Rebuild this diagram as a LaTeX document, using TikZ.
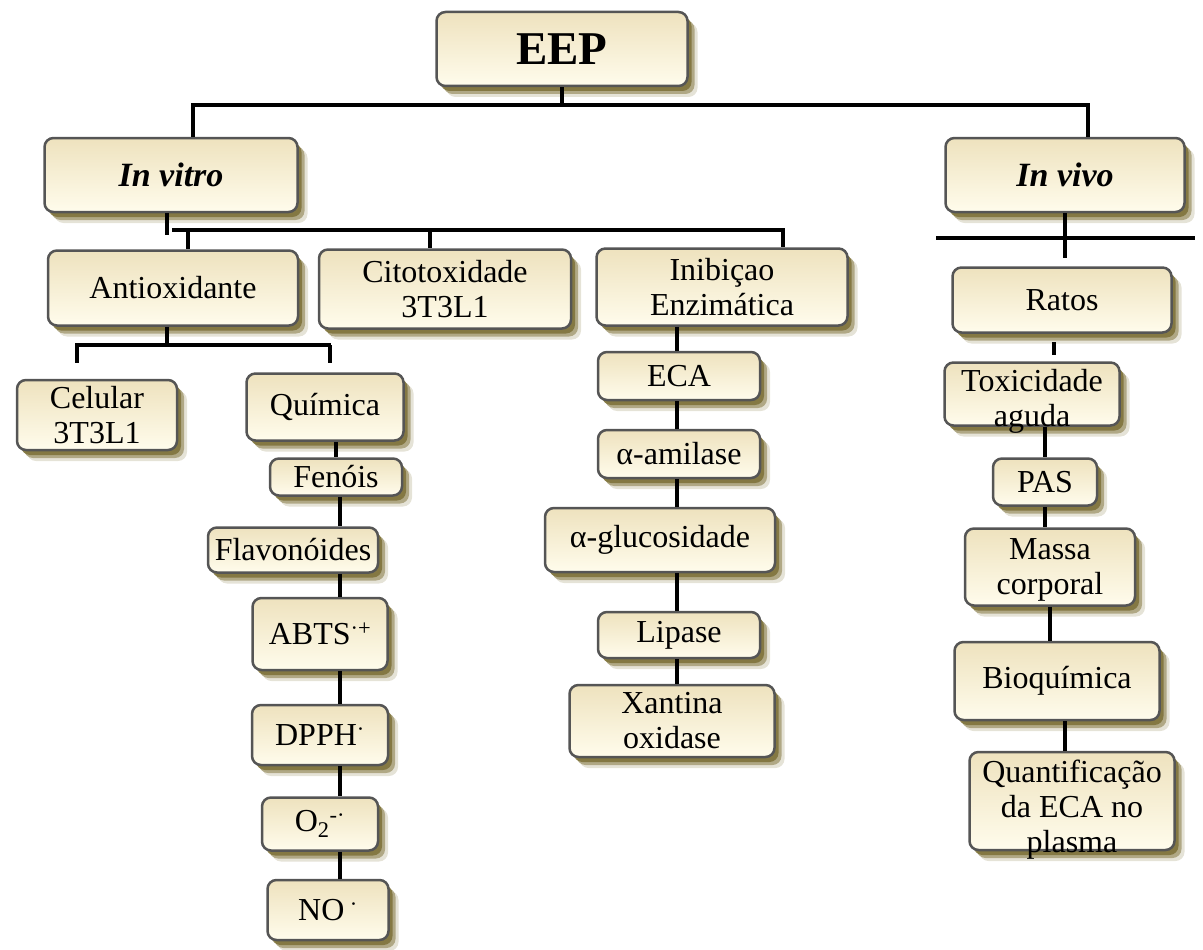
\documentclass[tikz,border=0pt]{standalone}
\usepackage{fontspec}
\setmainfont{Liberation Serif}
\usetikzlibrary{shadows}
\definecolor{cA}{RGB}{238,226,190}
\definecolor{cB}{RGB}{255,252,236}
\definecolor{bord}{RGB}{85,85,85}
\definecolor{shcol}{RGB}{128,116,60}
\tikzset{
  box/.style={rectangle, rounded corners=9pt, draw=bord, line width=2.5pt,
    top color=cA, bottom color=cB, inner sep=0pt, align=center,
    font=\fontsize{32}{35}\selectfont,
    drop shadow={shadow xshift=10pt, shadow yshift=-11pt, fill=shcol!45, opacity=0.45},
    drop shadow={shadow xshift=7pt, shadow yshift=-8pt, fill=shcol!80, opacity=0.7},
    drop shadow={shadow xshift=4pt, shadow yshift=-5pt, fill=shcol, opacity=0.9}},
  txt/.style={font=\fontsize{32}{35}\selectfont, align=center, inner sep=0pt},
  conn/.style={line width=4pt, black},
}
\begin{document}
\begin{tikzpicture}[x=1pt, y=-1pt]
\useasboundingbox (0,0) rectangle (1203,950);
% top level
\node[box, minimum width=251pt, minimum height=74pt, font=\fontsize{47}{50}\selectfont\bfseries] (eep) at (562,49) {\raisebox{-3pt}{EEP}};
\node[box, minimum width=253pt, minimum height=74pt, font=\fontsize{34}{38}\selectfont\bfseries\itshape] (invitro) at (171,175) {In vitro};
\node[box, minimum width=239pt, minimum height=74pt, font=\fontsize{34}{38}\selectfont\bfseries\itshape] (invivo) at (1065,175) {In vivo};
% in vitro level
\node[box, minimum width=250pt, minimum height=75pt] (antiox) at (173,288) {Antioxidante};
\node[box, minimum width=252pt, minimum height=79pt] (cito) at (445,289) {Citotoxidade\\3T3L1};
\node[box, minimum width=251pt, minimum height=77pt] (inib) at (722,287) {Inibiçao\\Enzimática};
% antioxidant branch
\node[box, minimum width=160pt, minimum height=70pt] (celular) at (97,415) {Celular\\3T3L1};
\node[box, minimum width=157pt, minimum height=67pt] (quimica) at (325,407) {Química};
\node[box, minimum width=132pt, minimum height=37pt] (fenois) at (336,477) {Fenóis};
\node[box, minimum width=170pt, minimum height=45pt] (flavo) at (293,550) {Flavonóides};
\node[box, minimum width=135pt, minimum height=72pt] (abts) at (320,634) {ABTS\textsuperscript{·+}};
\node[box, minimum width=136pt, minimum height=60pt] (dpph) at (320,735) {DPPH\textsuperscript{·}};
\node[box, minimum width=116pt, minimum height=53pt] (o2) at (320,824) {O\textsubscript{2}\textsuperscript{-·}};
\node[box, minimum width=121pt, minimum height=60pt] (no) at (328,910) {NO\,\textsuperscript{·}};
% enzyme branch
\node[box, minimum width=162pt, minimum height=48pt] (eca) at (679,376) {ECA};
\node[box, minimum width=162pt, minimum height=48pt] (amil) at (679,454) {α-amilase};
\node[box, minimum width=230pt, minimum height=64pt] (gluc) at (660,540) {α-glucosidade};
\node[box, minimum width=162pt, minimum height=46pt] (lipase) at (679,635) {Lipase};
\node[box, minimum width=205pt, minimum height=72pt] (xant) at (672,721) {Xantina\\oxidase};
% in vivo branch
\node[box, minimum width=219pt, minimum height=65pt] (ratos) at (1062,300) {\raisebox{-2pt}{Ratos}};
\node[box, minimum width=175pt, minimum height=63pt,
  label={[txt, yshift=-7pt]center:{Toxicidade\\aguda}}] (toxi) at (1032,394) {};
\node[box, minimum width=104pt, minimum height=47pt] (pas) at (1045,482) {PAS};
\node[box, minimum width=170pt, minimum height=77pt,
  label={[txt, yshift=-3pt]center:{Massa\\corporal}}] (massa) at (1050,567) {};
\node[box, minimum width=205pt, minimum height=78pt] (bioq) at (1057,681) {Bioquímica};
\node[box, minimum width=205pt, minimum height=98pt,
  label={[txt, yshift=-9pt]center:{Quantificação\\da ECA no\\plasma}}] (quant) at (1072,801) {};
% connector coordinates
\coordinate (barL) at (193,105);
\coordinate (barR) at (1088,105);
\coordinate (v0) at (167,235);
\coordinate (vL) at (172,230);
\coordinate (vR) at (785,230);
\coordinate (a1) at (188,230);
\coordinate (a2) at (430,230);
\coordinate (a3) at (783,230);
\coordinate (s0) at (167,345);
\coordinate (sL) at (75,345);
\coordinate (sR) at (331,345);
\coordinate (c1) at (77,363);
\coordinate (c2) at (330,363);
\coordinate (xq) at (336,0);
\coordinate (xf) at (340,0);
\coordinate (xe) at (677,0);
\coordinate (w0) at (1065,258);
\coordinate (wL) at (936,238);
\coordinate (wR) at (1195,238);
\coordinate (r1) at (1054,342);
\coordinate (r2) at (1054,355);
\coordinate (xp) at (1045,0);
\coordinate (xm) at (1050,0);
\coordinate (xb) at (1065,0);
% connectors
\draw[conn] (eep.south) -- (eep.south |- barL);
\draw[conn] (invitro.north -| barL) -- (barL) -- (barR) -- (invivo.north -| barR);
\draw[conn] (invitro.south -| v0) -- (v0);
\draw[conn] (vL) -- (vR);
\draw[conn] (a1) -- (antiox.north -| a1);
\draw[conn] (a2) -- (cito.north -| a2);
\draw[conn] (a3) -- (inib.north -| a3);
\draw[conn] (antiox.south -| s0) -- (s0);
\draw[conn] (sL) -- (sR);
\draw[conn] (sL -| c1) -- (c1);
\draw[conn] (sR -| c2) -- (c2);
\draw[conn] (quimica.south -| xq) -- (fenois.north -| xq);
\draw[conn] (fenois.south -| xf) -- (flavo.north -| xf);
\draw[conn] (flavo.south -| xf) -- (abts.north -| xf);
\draw[conn] (abts.south -| xf) -- (dpph.north -| xf);
\draw[conn] (dpph.south -| xf) -- (o2.north -| xf);
\draw[conn] (o2.south -| xf) -- (no.north -| xf);
\draw[conn] (inib.south -| xe) -- (eca.north -| xe);
\draw[conn] (eca.south -| xe) -- (amil.north -| xe);
\draw[conn] (amil.south -| xe) -- (gluc.north -| xe);
\draw[conn] (gluc.south -| xe) -- (lipase.north -| xe);
\draw[conn] (lipase.south -| xe) -- (xant.north -| xe);
\draw[conn] (invivo.south -| w0) -- (w0);
\draw[conn] (wL) -- (wR);
\draw[conn] (r1) -- (r2);
\draw[conn] (toxi.south -| xp) -- (pas.north -| xp);
\draw[conn] (pas.south -| xp) -- (massa.north -| xp);
\draw[conn] (massa.south -| xm) -- (bioq.north -| xm);
\draw[conn] (bioq.south -| xb) -- (quant.north -| xb);
\end{tikzpicture}
\end{document}
